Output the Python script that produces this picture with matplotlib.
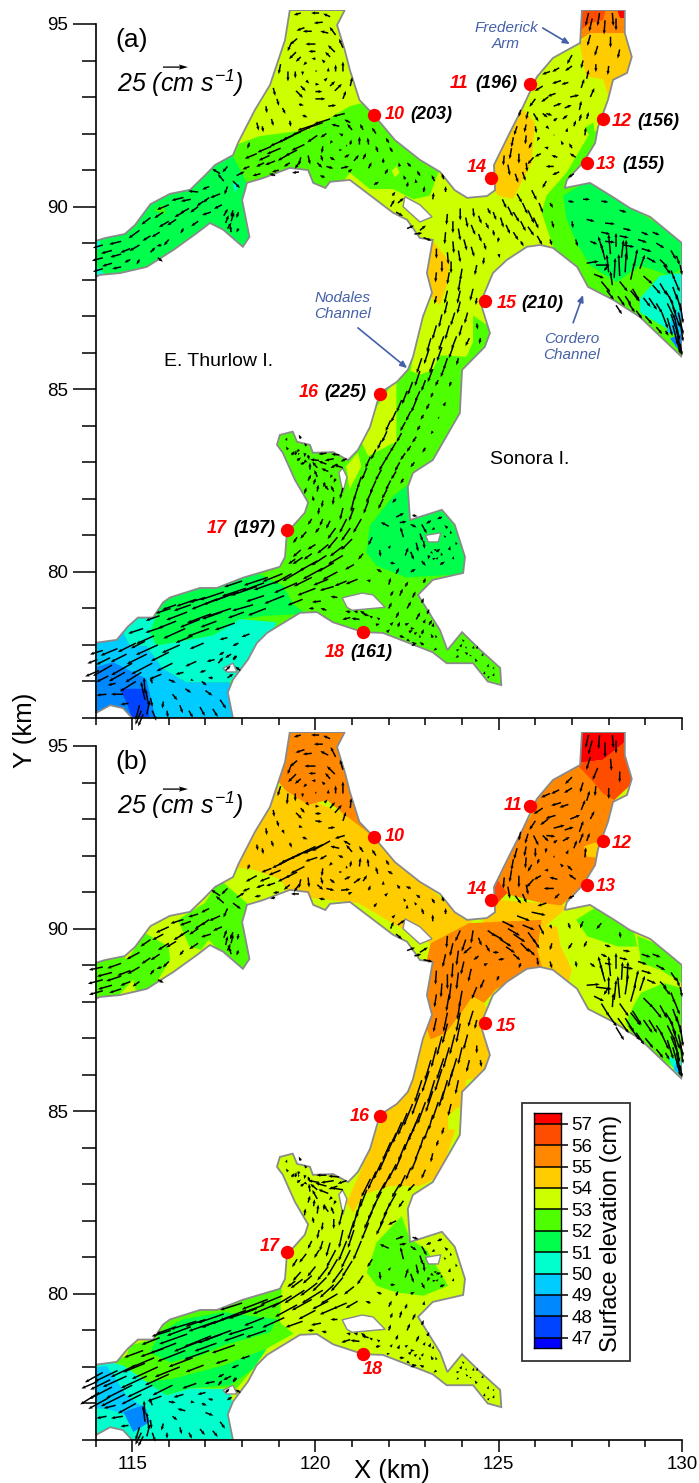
import numpy as np
import matplotlib
matplotlib.use('Agg')
import matplotlib.pyplot as plt
from matplotlib.patches import Polygon, Rectangle
from matplotlib.ticker import MultipleLocator

plt.rcParams['font.family'] = ['Liberation Sans', 'DejaVu Sans']
plt.rcParams['mathtext.fontset'] = 'custom'
plt.rcParams['mathtext.it'] = 'Liberation Sans:italic'
plt.rcParams['mathtext.rm'] = 'Liberation Sans:italic'

# channel outline, km
outline = [
    (114.0, 89.06), (114.26, 89.14), (114.8, 89.25), (115.08, 89.5), (115.5, 90.07), (116.03, 90.35),
    (116.58, 90.46), (117.0, 90.87), (117.26, 91.14), (117.75, 91.41), (117.9, 91.77), (118.35, 92.65),
    (118.76, 93.33), (119.17, 94.56), (119.3, 95.38), (120.8, 95.38), (120.59, 94.97), (120.8, 94.29),
    (120.94, 93.74), (121.2, 92.92), (121.6, 92.5), (122.17, 91.82), (122.85, 91.28), (123.4, 90.95),
    (123.8, 90.45), (124.14, 90.24), (124.68, 90.29), (124.9, 90.45), (124.87, 91.14), (125.3, 92.02),
    (125.66, 92.73), (126.04, 93.55), (126.48, 94.07), (127.22, 94.48), (127.27, 95.38), (128.44, 95.38),
    (128.44, 94.75), (128.63, 94.1), (128.5, 93.66), (128.12, 93.47), (127.98, 92.92), (127.71, 92.18),
    (127.63, 91.74), (127.3, 91.2), (126.86, 90.73), (126.8, 90.51), (127.49, 90.65), (128.12, 90.26),
    (128.58, 89.96), (129.13, 89.72), (130.0, 89.0), (130.0, 85.88), (128.85, 86.98), (128.12, 87.45),
    (127.44, 87.8), (127.14, 88.35), (126.48, 88.87), (126.13, 88.95), (125.77, 88.9), (125.22, 88.54),
    (124.84, 88.18), (124.57, 87.53), (124.54, 87.25), (124.76, 86.54), (124.62, 86.16), (124.0, 85.53),
    (123.94, 84.35), (123.2, 83.06), (122.66, 82.71), (122.52, 82.33), (122.58, 81.42), (123.45, 81.7),
    (123.8, 81.29), (124.08, 80.41), (124.03, 79.97), (123.2, 79.78), (122.8, 79.37), (123.4, 78.4),
    (123.6, 77.86), (124.0, 78.35), (124.5, 77.86), (125.04, 77.37), (125.07, 76.9), (124.7, 77.0),
    (124.3, 77.5), (123.58, 77.5), (123.2, 77.8), (121.84, 78.33), (121.3, 78.35), (120.48, 78.62),
    (120.04, 78.9), (119.58, 78.88), (118.68, 78.33), (118.4, 78.05), (118.16, 77.6), (117.75, 77.05),
    (117.61, 76.7), (117.75, 76.0), (115.0, 76.0), (114.75, 76.27), (114.4, 76.35), (114.0, 76.13),
    (114.0, 78.06), (114.58, 78.14), (114.88, 78.5), (115.16, 78.75), (115.57, 78.75), (115.84, 79.16),
    (116.03, 79.3), (116.85, 79.56), (117.31, 79.56), (118.02, 79.84), (119.03, 80.14), (119.17, 80.41),
    (119.22, 81.07), (119.71, 81.62), (119.8, 81.9), (119.44, 82.52), (119.11, 83.26), (118.95, 83.48),
    (119.03, 83.75), (119.38, 83.84), (119.5, 83.56), (119.85, 83.48), (119.93, 83.26), (120.48, 83.28),
    (120.89, 83.06), (121.16, 83.34), (121.49, 83.97), (121.76, 84.9), (122.22, 85.2), (122.52, 85.53),
    (122.66, 85.88), (122.93, 86.98), (123.18, 87.64), (123.04, 88.18), (123.2, 89.09), (122.85, 89.14),
    (122.5, 89.64), (122.12, 89.83), (120.94, 90.73), (120.4, 90.68), (120.27, 90.51), (119.94, 90.65),
    (119.8, 91.0), (119.3, 91.06), (118.57, 90.78), (118.13, 90.65), (118.08, 90.45), (118.0, 90.18),
    (118.2, 89.17), (118.02, 88.9), (117.48, 89.37), (117.12, 89.55), (116.77, 89.28), (116.12, 88.81),
    (115.4, 88.35), (114.67, 88.18), (114.12, 88.13), (114.0, 88.07),
]
islands = [
    [(122.44, 90.27), (122.85, 90.05), (123.18, 89.72), (122.85, 89.58), (122.39, 90.0)],
    [(120.74, 82.84), (120.86, 82.6), (120.75, 82.17), (120.64, 82.72)],
    [(123.0, 81.0), (123.42, 81.07), (123.35, 80.82), (123.08, 80.82)],
    [(120.73, 79.29), (121.27, 79.42), (121.57, 79.37), (121.9, 79.03), (121.0, 78.95), (120.86, 79.03)],
    [(117.48, 77.36), (117.75, 77.5), (117.86, 77.26), (117.58, 77.26)],
]

level_colors = {
    46: '#0000ff', 47: '#0044ff', 48: '#0088ff', 49: '#00ccff', 50: '#00ffcc', 51: '#00ff4d',
    52: '#4dff00', 53: '#ccff00', 54: '#ffcc00', 55: '#ff8800', 56: '#ff4d00', 57: '#ff0000',
}

# elevation zones, painted in order: (level, polygon)
zones_a = [
    (52, [(113, 97), (131, 97), (131, 75), (113, 75)]),
    (51, [(113.5, 89.5), (116, 91), (117.7, 91.5), (117.75, 91.39), (118.12, 90.66), (118.5, 88.5), (113.5, 87.8)]),
    (50, [(114, 89.1), (114.12, 89.1), (114.12, 88.85), (114, 88.85)]),
    (50, [(114, 88.4), (114.3, 88.1), (114, 88.0)]),
    (50, [(117.75, 90.62), (117.95, 90.65), (117.8, 90.38)]),
    (52, [(115.6, 89.9), (115.85, 90.05), (115.9, 89.8)]),
    (53, [(117.75, 91.66), (118.48, 91.93), (119.85, 92.11), (120.94, 92.75), (121.5, 92.9), (121.5, 95.5), (118, 95.5), (117.4, 92.2)]),
    (53, [(123.35, 90.93), (123.12, 90.3), (122.67, 90.2), (122.12, 90.48), (121.49, 90.48), (120.94, 90.93), (120.67, 90.57),
          (120.5, 90.4), (122.0, 89.5), (122.67, 85.93), (122.6, 85.5), (122.85, 85.4), (123.2, 85.53), (123.39, 85.93),
          (124.12, 85.89), (124.3, 86.3), (124.3, 87.02), (124.76, 86.7), (125.49, 87.48), (126.49, 88.89), (126.17, 89.84),
          (126.3, 90.3), (126.85, 90.93), (127.49, 92.02), (129, 92.5), (129, 95.5), (124, 95.5), (124.5, 91.5), (123.94, 91.1)]),
    (53, [(122.08, 90.98), (122.21, 91.11), (122.3, 90.93), (122.17, 90.8)]),
    (52, [(127.35, 92.16), (127.58, 92.3), (127.62, 92.02), (127.49, 91.93)]),
    (53, [(122.21, 84.44), (122.21, 83.57), (121.44, 83.17), (121.25, 83.57), (121.57, 84.35), (121.84, 84.8), (122.21, 85.26)]),
    (53, [(120.84, 82.89), (121.16, 83.26), (121.25, 82.89), (120.93, 82.26)]),
    (54, [(124.94, 91.39), (125.67, 92.66), (125.99, 92.3), (125.9, 91.2), (125.39, 90.21), (124.99, 90.3), (124.6, 90.8)]),
    (54, [(127.3, 93.93), (127.21, 94.48), (127.49, 94.75), (128.49, 94.75), (128.8, 94.11), (128.21, 93.3), (127.99, 93.02), (127.85, 93.48), (127.39, 93.57)]),
    (54, [(123.17, 89.11), (123.67, 88.48), (123.58, 87.84), (123.39, 87.3), (123.12, 87.57), (122.9, 88.2)]),
    (55, [(127.1, 94.48), (127.3, 95.5), (128.6, 95.5), (128.6, 94.75), (127.49, 94.75)]),
    (56, [(127.1, 94.75), (127.1, 95.5), (127.94, 95.5), (127.85, 95.11), (127.49, 95.02)]),
    (57, [(128.21, 95.5), (128.6, 95.5), (128.6, 95.16), (128.3, 95.16)]),
    (51, [(126.76, 90.3), (127.49, 90.75), (128.12, 90.3), (130.12, 89.02), (130.12, 88.39), (129.67, 88.11), (128.85, 88.39),
          (128.21, 87.93), (127.49, 88.39), (127.12, 89.02), (126.85, 89.66)]),
    (50, [(130.12, 88.2), (130.12, 86.57), (129.58, 86.66), (128.85, 87.11), (128.85, 87.48), (129.39, 88.11)]),
    (49, [(130.12, 87.3), (130.12, 86.39), (129.58, 86.57), (129.76, 87.02)]),
    (48, [(129.67, 86.39), (130.12, 86.57), (130.12, 85.8)]),
    (46, [(129.89, 86.11), (130.12, 86.2), (130.12, 85.8)]),
    (51, [(122.53, 82.39), (122.66, 81.44), (123.48, 81.8), (124.21, 80.44), (124.12, 79.94), (122.48, 79.85), (121.66, 80.17),
          (121.39, 80.53), (121.48, 81.26), (122.12, 82.08)]),
    (51, [(115.48, 78.35), (115.75, 79.08), (116.03, 79.44), (116.85, 79.71), (117.3, 79.71), (118.48, 79.94), (119.12, 79.62),
          (119.39, 79.12), (119.75, 78.85), (118.66, 78.8), (117.94, 78.71), (117.21, 78.26), (115.66, 77.98)]),
    (50, [(114.75, 78.35), (115.12, 78.8), (115.66, 78.8), (115.48, 78.35), (115.66, 77.98), (117.21, 78.26), (117.94, 78.71),
          (118.94, 78.62), (118.57, 77.8), (118.16, 77.53), (117.66, 76.98), (116.48, 76.98), (115.84, 77.35), (115.39, 77.98), (114.94, 77.98)]),
    (49, [(113.84, 78.17), (114.75, 78.35), (114.94, 77.98), (115.39, 77.98), (115.84, 77.35), (116.48, 76.98), (117.66, 76.98),
          (117.94, 75.9), (113.84, 75.9)]),
    (48, [(113.84, 77.35), (114.48, 77.53), (115.39, 77.07), (115.66, 75.9), (113.84, 75.9)]),
    (47, [(114.66, 76.8), (115.39, 76.8), (115.48, 75.9), (115.03, 75.9), (114.84, 76.44)]),
]
zones_b = [
    (53, [(113, 97), (131, 97), (131, 75), (113, 75)]),
    (54, [(117.6, 91.7), (118.9, 93.9), (119.17, 93.8), (120.74, 93.16), (121.58, 92.52), (123.98, 90.33), (124.29, 90.2),
          (123.14, 89.6), (122.41, 89.97), (121.16, 90.7), (119.28, 90.9), (119.07, 91.34), (118.34, 91.61)]),
    (55, [(119.0, 95.5), (120.95, 95.5), (121.16, 94.16), (121.89, 92.52), (121.58, 92.52), (120.74, 93.16), (120.32, 93.52),
          (119.8, 93.39), (119.17, 93.8), (118.8, 94.25)]),
    (52, [(117.4, 91.34), (118.13, 90.7), (118.4, 89.06), (117.92, 88.7), (117.09, 89.7), (116.88, 89.42), (116.56, 89.51), (116.25, 90.24), (116.98, 90.7)]),
    (52, [(115.31, 89.9), (115.99, 89.51), (116.04, 89.15), (115.52, 88.3), (115.1, 88.3), (114.89, 89.15)]),
    (52, [(113.85, 89.3), (114.48, 89.4), (114.89, 89.15), (115.1, 88.69), (114.48, 88.0), (113.85, 87.95)]),
    (55, [(124.7, 91.34), (125.86, 93.07), (126.3, 94.44), (128.57, 94.6), (128.15, 93.52), (128.26, 92.7), (127.53, 91.43),
          (126.69, 90.61), (126.17, 90.7), (125.12, 90.97)]),
    (54, [(127.32, 92.25), (127.84, 92.43), (127.8, 91.93), (127.42, 91.97)]),
    (54, [(124.5, 90.52), (124.92, 90.79), (126.17, 90.7), (126.9, 90.61), (126.17, 89.97), (124.6, 90.1)]),
    (56, [(124.92, 91.4), (125.23, 90.97), (124.92, 90.65), (124.6, 91.06)]),
    (56, [(127.1, 94.53), (127.84, 94.62), (128.41, 95.08), (128.8, 94.53), (128.8, 94.12), (128.15, 93.52), (127.84, 93.71), (127.53, 94.07)]),
    (57, [(127.1, 95.5), (128.6, 95.5), (128.41, 95.08), (127.84, 94.62), (127.1, 94.53)]),
    (55, [(123.14, 89.6), (124.19, 90.15), (126.17, 90.24), (126.06, 89.42), (126.27, 88.7), (125.54, 88.7), (124.92, 88.33),
          (124.6, 87.96), (124.29, 88.14), (123.98, 87.69), (123.56, 87.14), (123.14, 86.96), (122.8, 87.6), (122.9, 88.51)]),
    (54, [(126.06, 89.42), (126.17, 90.06), (126.59, 90.06), (126.69, 89.51), (127.0, 88.87), (126.8, 88.2), (126.27, 88.6)]),
    (54, [(122.03, 85.18), (122.3, 85.9), (122.93, 87.6), (123.14, 86.96), (123.56, 87.14), (123.98, 87.69), (124.29, 88.14),
          (124.6, 87.96), (125.0, 87.0), (125.0, 86.0), (124.12, 85.86), (123.99, 85.04), (123.4, 83.22), (122.85, 82.95),
          (122.03, 82.95), (121.3, 82.72), (121.03, 82.22), (120.85, 82.5), (121.21, 83.31), (121.58, 84.31)]),
    (53, [(123.9, 85.13), (124.2, 84.5), (123.62, 84.5), (123.62, 84.86)]),
    (52, [(114.4, 78.13), (114.85, 78.31), (114.94, 78.59), (115.58, 78.77), (115.85, 79.5), (116.85, 79.68), (117.94, 79.95),
          (119.08, 80.22), (119.03, 79.22), (119.4, 78.91), (118.67, 78.5), (118.3, 77.95), (117.85, 77.41), (116.58, 77.41),
          (115.85, 77.22), (115.4, 77.59), (114.76, 78.04)]),
    (51, [(115.49, 78.4), (115.76, 78.95), (116.4, 79.31), (117.49, 79.5), (118.21, 79.4), (118.94, 79.31), (118.76, 78.95),
          (117.49, 78.59), (116.85, 78.31), (116.03, 78.13)]),
    (51, [(115.4, 77.59), (115.94, 77.22), (116.58, 77.41), (117.67, 77.5), (118.3, 77.95), (118.67, 78.5), (117.49, 78.04), (116.12, 77.68)]),
    (50, [(113.85, 78.3), (114.4, 78.13), (114.76, 78.04), (115.4, 77.59), (115.94, 77.22), (116.58, 77.41), (117.67, 77.4),
          (117.9, 76.0), (113.85, 76)]),
    (49, [(113.85, 77.95), (114.3, 78.04), (114.85, 77.22), (115.49, 76.77), (114.85, 76.68), (114.3, 76.86), (113.85, 76.86)]),
    (48, [(114.76, 76.77), (115.3, 76.95), (115.49, 76.5), (115.03, 76.22)]),
    (52, [(121.4, 80.59), (121.67, 81.41), (122.35, 82.13), (122.58, 81.5), (123.03, 81.22), (123.62, 80.22), (122.94, 79.95), (122.21, 80.04), (121.67, 80.22)]),
    (52, [(127.11, 90.24), (127.84, 90.7), (128.67, 90.0), (128.78, 89.51), (128.26, 89.51), (127.42, 89.79)]),
    (52, [(128.78, 89.8), (129.51, 89.5), (130.14, 88.87), (130.14, 88.42), (129.41, 88.87), (128.88, 89.06)]),
    (52, [(129.51, 88.51), (130.14, 88.33), (130.14, 85.96), (129.72, 86.23), (128.88, 86.68), (128.47, 87.41), (128.67, 87.87), (128.88, 88.24)]),
    (50, [(129.62, 86.5), (130.14, 86.32), (130.14, 85.8), (129.72, 86.23)]),
    (49, [(129.82, 86.32), (130.14, 86.14), (130.14, 85.8), (129.77, 86.14)]),
]

# current vectors: x km, y km, then u, v in cm/s for panel a and for panel b
west_channel = [
    (114.2, 88.95, -10, -3, -14, -3), (114.2, 88.6, -11, -3, -15, -4), (114.2, 88.3, -10, -3, -14, -4),
    (114.7, 89.05, -12, -3, -14, -5), (114.7, 88.7, -11, -3, -15, -5), (114.7, 88.35, -9, -2, -12, -4),
    (115.2, 89.35, -11, -8, -13, -7), (115.2, 88.95, -10, -6, -12, -7), (115.2, 88.55, -3, -5, -7, -5),
    (115.5, 89.7, -9, -7, -10, -7), (115.5, 89.2, -8, -5, -9, -6), (115.5, 88.75, 5, 5, 4, 5),
    (115.7, 88.6, 5, -4, 6, -3), (115.8, 88.95, -5, -1, -5, -2), (116.0, 90.05, -12, -5, -13, -6),
    (116.0, 89.6, -10, -6, -11, -7), (116.0, 89.1, -5, -6, -6, -6), (116.4, 90.25, -12, -3, -13, -4),
    (116.4, 89.85, -9, -5, -10, -6), (116.4, 89.4, -3, -5, -4, -5), (116.8, 90.4, -10, 1, -10, -3),
    (116.8, 90.0, -8, -6, -9, -6), (116.8, 89.6, -7, -5, -9, -6), (117.1, 90.55, -7, -3, -8, -4),
    (117.1, 90.25, -6, -5, -8, -6), (117.15, 89.85, -9, -3, -10, -3), (117.4, 90.9, -8, 5, -9, 6),
    (117.5, 90.7, -6, 7, -8, 7), (117.6, 90.55, -3, -8, -4, -9), (117.4, 90.35, -10, -4, -11, -5),
    (117.45, 90.05, -8, -4, -9, -4), (117.5, 89.75, 4, 7, 3, 8), (117.55, 89.55, 3, 8, 2, 9),
    (117.6, 89.4, 4, 6, 3, 7), (117.7, 89.6, 3, 9, 2, 9), (117.7, 89.3, -1, 7, -2, 7),
    (117.75, 89.9, -2, -7, -3, -7), (117.9, 89.85, -2, -6, -1, -6), (117.9, 89.4, -2, -4, -2, -5),
    (117.6, 91.1, -5, -6, -6, -6), (117.85, 90.85, 8, 4, 8, 5), (117.75, 90.7, 7, -7, 8, -6),
    (114.45, 88.8, -11, -3, -15, -4), (114.45, 88.45, -10, -3, -14, -4), (114.95, 88.85, -10, -4, -13, -5),
    (114.95, 88.55, -6, -3, -10, -4), (115.75, 89.3, -8, -5, -9, -6), (116.2, 89.65, -9, -6, -10, -6),
    (116.55, 89.95, -9, -5, -10, -6), (115.85, 89.85, -9, -6, -11, -6), (116.6, 90.2, -10, -2, -11, -4),
    (116.95, 90.15, -7, -5, -9, -6),
]
north_arm = [
    (120.35, 93.7, 0, 4, 0, 4), (120.25, 93.95, -3, 3, -3, 3), (120.0, 94.05, -4, 0, -4, 0), (119.75, 93.95, -3, -3, -3, -3),
    (119.65, 93.7, 0, -4, 0, -4), (119.75, 93.45, 3, -3, 3, -3), (120.0, 93.35, 4, 0, 4, 0), (120.25, 93.45, 3, 3, 3, 3),
    (120.75, 93.7, 0, 10, 0, 12), (120.53, 94.23, -7, 7, -8, 8), (120.0, 94.45, -10, 0, -11, 0), (119.47, 94.23, -7, -7, -8, -8),
    (119.25, 93.7, 0, -10, -1, -11), (119.47, 93.17, 7, -7, 6, -6), (120.0, 92.95, 10, 0, 7, -1), (120.53, 93.17, 7, 7, 7, 8),
    (120.55, 94.7, -6, 8, -5, 10), (120.2, 95.05, -9, -1, -9, 0), (119.7, 94.9, -8, -3, -9, -3), (119.35, 94.5, -4, -9, -4, -10),
    (119.05, 93.9, -2, -10, -3, -10), (118.85, 93.25, 2, -8, 1, -7), (118.65, 92.75, 1, -7, 1, -7), (118.4, 92.3, 2, -8, 1, -6),
    (119.1, 92.7, 3, -6, 2, -4), (119.55, 92.8, 5, -1, 4, -1), (120.1, 95.3, -8, 0, -8, 0), (119.6, 95.3, -7, -2, -7, -2),
    (120.95, 93.3, 2, 9, 1, 10), (120.75, 92.95, 3, 8, 3, 9), (120.0, 93.7, 2, 1, 1, 2),
    (120.55, 93.7, 0, 7, 0, 8), (120.4, 94.1, -5, 5, -5, 6), (120.0, 94.25, -7, 0, -7, 0), (119.6, 94.1, -5, -5, -6, -5),
    (119.45, 93.7, 0, -7, 0, -8), (119.6, 93.3, 5, -5, 4, -5), (120.0, 93.15, 7, 0, 6, 0), (120.4, 93.3, 5, 5, 5, 6),
    (120.75, 94.35, -4, 9, -3, 10), (120.35, 94.75, -8, 2, -8, 4), (119.9, 94.8, -9, 0, -9, -1), (119.5, 94.6, -7, -6, -7, -6),
    (120.4, 95.2, -7, 3, -7, 3), (119.3, 92.35, 1, -6, 2, -5), (118.8, 92.4, 2, -7, 2, -6), (119.65, 92.5, 5, -2, 5, -2),
    (120.35, 92.75, 8, 1, 7, 1), (118.95, 92.95, 2, -7, 2, -6), (118.55, 92.2, 1, -6, 1, -6), (118.2, 91.75, -2, -6, -2, -5),
]
north_basin = [
    (118.4, 91.45, -12, -5, -11, -6), (118.8, 91.65, -14, -6, -10, -4), (119.2, 91.85, -16, -7, -14, -7), (119.6, 92.05, -18, -8, -20, -9),
    (120.0, 92.25, -18, -6, -20, -10), (120.4, 92.4, -16, -5, -18, -10), (120.8, 92.55, -12, -3, -10, -3), (118.9, 91.25, -10, -4, -9, -3),
    (119.3, 91.45, -12, -7, -12, -6), (119.7, 91.7, -13, -6, -14, -7), (120.05, 91.95, -10, -7, -12, -4), (118.2, 91.1, -7, -3, -7, -3),
    (118.5, 90.9, -8, -2, -6, -1), (118.9, 90.85, -6, 2, -5, -1), (119.3, 91.2, -6, -4, -6, -5), (119.55, 91.2, -4, -6, -5, -7),
    (119.8, 91.4, 2, -9, 1, -10), (120.05, 91.2, 5, -5, 6, -5), (120.3, 91.1, 7, -2, 8, -2), (120.7, 91.05, 8, 2, 9, 1),
    (121.05, 91.25, 5, 6, 7, 5), (121.2, 91.7, 0, 8, 1, 9), (121.0, 92.1, -5, 6, -6, 7), (120.65, 92.2, -8, 2, -9, 2),
    (120.3, 92.0, -6, -4, -7, -4), (120.2, 91.65, -1, -7, -1, -8), (120.4, 91.35, 5, -3, 5, -4), (120.8, 91.35, 5, 3, 6, 3),
    (120.95, 91.7, 1, 5, 1, 6), (120.75, 91.95, -4, 2, -5, 2), (120.45, 91.8, -2, -3, -3, -3), (120.65, 91.55, 3, 0, 3, 0),
    (120.85, 91.65, 0, 2, 0, 3), (119.55, 90.95, -7, -1, -8, 0), (120.25, 90.8, -5, 2, -6, 1), (120.9, 90.95, 4, 3, 4, 2),
    (121.45, 91.05, 3, 6, 2, 5), (121.7, 91.5, -2, 6, -2, 7), (121.65, 92.0, -4, 6, -4, 6), (122.1, 91.5, -3, 5, -5, 3),
    (122.3, 91.1, -1, 4, -3, 4), (121.9, 90.9, 3, 5, 3, 3), (121.6, 90.6, 5, 3, 3, 4), (122.6, 91.1, -4, 4, -5, 2),
    (122.85, 90.85, -3, 5, -4, 3), (122.45, 90.75, -2, 4, -2, 3), (122.95, 90.4, 1, 6, -2, 6), (123.25, 90.7, -3, 6, -3, 5),
    (123.2, 90.2, 1, 7, 0, 7), (123.55, 90.4, 0, 6, 0, 6), (122.1, 90.3, 3, 4, 3, 3), (122.25, 90.1, 6, 5, 7, 5),
    (122.05, 90.0, 4, 7, 3, 7), (122.2, 89.85, 7, -4, 6, -5), (122.5, 89.4, 7, 3, 8, 3), (122.7, 89.25, 8, 1, 7, 2),
    (122.85, 89.35, 6, 5, 8, 5), (122.95, 89.15, 8, -3, 9, -2),
    (118.75, 91.4, -11, -5, -10, -4), (119.05, 91.6, -14, -6, -12, -5), (119.4, 91.95, -15, -7, -16, -8), (119.8, 92.15, -16, -7, -18, -9),
    (120.2, 92.3, -17, -6, -19, -9), (119.5, 91.55, -12, -6, -12, -6), (119.6, 91.35, -2, -8, -2, -9), (119.0, 91.0, -7, -2, -6, -1),
    (118.6, 91.2, -8, -4, -8, -3), (120.15, 91.4, 2, -6, 2, -7), (121.3, 91.3, 3, 6, 4, 6), (121.45, 91.7, -1, 7, -1, 8),
    (121.3, 92.1, -3, 6, -4, 6), (120.95, 92.3, -6, 3, -7, 4), (122.0, 91.75, -3, 5, -3, 5), (121.85, 91.2, 0, 5, 0, 4),
    (122.5, 90.55, 1, 5, 0, 4), (122.75, 90.65, -1, 4, -2, 3), (123.5, 90.75, -2, 6, -2, 5),
]
ne_arm = [
    (126.5, 92.35, 4, 3, 4, 3), (126.85, 92.05, 1, 4, 2, 4), (126.75, 91.7, -2, 4, -3, 3), (126.35, 91.6, -4, 1, -4, 0),
    (126.1, 91.9, -2, -4, -2, -5), (126.3, 92.2, 3, -3, -1, -5), (126.5, 91.95, 1, 1, 1, 2), (127.2, 92.65, 2, 9, 4, 11),
    (127.35, 91.95, 1, 8, 1, 10), (127.1, 91.35, -6, 4, -7, 5), (126.5, 91.1, -8, 0, -10, 0), (125.95, 91.35, -6, -7, -7, -8),
    (125.75, 91.95, -1, -9, -1, -11), (125.95, 92.55, 5, -8, 5, -10), (126.5, 92.75, 8, 3, 11, 3), (126.95, 93.0, 9, 2, 10, 4),
    (127.5, 93.0, 4, 9, 4, 8), (127.4, 93.5, 2, 9, 3, 10), (126.7, 93.45, -9, -3, -10, -3), (126.4, 93.7, -8, -3, -9, -4),
    (126.2, 93.3, -8, -5, -9, -6), (126.0, 92.95, -6, -8, -6, -9), (125.8, 92.6, -2, -8, -3, -10), (125.5, 92.2, -3, -9, -3, -11),
    (125.35, 91.6, -2, -11, -2, -12), (125.25, 91.15, 2, -11, 2, -12), (125.65, 90.95, 3, -9, 4, -9), (125.55, 91.45, 0, -10, 0, -12),
    (127.0, 94.15, -5, -9, -7, -7), (127.3, 94.0, -2, -8, -3, -10), (127.65, 93.9, 0, -8, -1, -10), (128.0, 93.85, -1, -9, 0, -11),
    (128.3, 94.3, -2, -9, 0, -11), (127.7, 94.4, -3, -10, -5, -12), (127.5, 94.7, -3, -11, -4, -13), (128.05, 94.65, 0, -11, 1, -12),
    (127.55, 95.15, -3, -13, -4, -14), (127.9, 95.1, -1, -14, 0, -15), (128.2, 95.15, 0, -12, 0, -13), (127.75, 95.3, -2, -13, -1, -14),
    (127.45, 95.3, -3, -13, -3, -13), (128.1, 95.3, 1, -13, 1, -13), (126.65, 90.95, -7, -3, -5, -5), (127.05, 90.9, -6, -4, -6, -3),
    (126.3, 90.7, -4, -7, -9, -3),
    (126.2, 92.55, 5, -4, 6, -6), (126.75, 92.4, 5, 4, 7, 4), (127.05, 92.2, 2, 6, 3, 8), (127.0, 91.6, -3, 5, -5, 5),
    (126.6, 91.35, -6, 2, -8, 2), (126.15, 91.45, -6, -3, -7, -4), (125.9, 91.75, -3, -6, -4, -7), (126.0, 92.2, 1, -7, 0, -9),
    (126.3, 92.55, 6, -2, 9, -1), (126.8, 92.7, 7, 3, 9, 3), (127.2, 92.35, 2, 7, 4, 10), (127.4, 92.4, 2, 7, 3, 8),
    (127.25, 93.25, 3, 9, 4, 10), (126.55, 93.1, -8, -3, -10, -3), (126.9, 93.4, -7, -2, -9, -3), (127.0, 93.85, -7, -5, -8, -5),
    (126.65, 93.8, -7, -4, -8, -4), (126.35, 93.0, -7, -5, -8, -6), (125.75, 92.25, -2, -8, -2, -10), (125.6, 92.65, -2, -7, -2, -9),
    (125.4, 91.9, -2, -10, -2, -11), (125.15, 91.4, -1, -10, -1, -11), (125.75, 91.2, 1, -9, 2, -10), (125.45, 90.9, 3, -9, 6, -8),
]
junction = [
    (123.6, 89.8, -1, -11, -1, -12), (123.95, 89.95, 0, -12, -5, -11), (124.3, 89.95, 1, -9, -2, -13), (124.7, 89.95, 3, -6, 8, -6),
    (125.1, 90.2, 4, -9, 12, -6), (125.5, 90.35, 5, -9, 13, -5), (125.9, 90.45, 5, -10, 14, -3), (123.55, 89.3, -1, -12, -3, -13),
    (123.9, 89.4, 2, -12, -2, -15), (124.25, 89.5, 4, -10, -8, -7), (124.65, 89.55, 3, -6, 4, -7), (125.05, 89.7, 3, -10, 11, -7),
    (125.4, 89.85, 6, -10, 12, -8), (125.8, 89.9, 6, -13, 8, -11), (126.1, 90.1, 4, -10, 5, -10), (123.6, 88.75, 1, -12, 0, -15),
    (123.9, 88.8, 2, -12, -2, -17), (124.25, 88.9, 3, -10, -3, -13), (124.6, 89.0, 2, -7, 4, 2), (125.0, 89.15, -1, -5, 6, 1),
    (125.4, 89.3, 5, -8, 7, -6), (125.8, 89.45, 6, -9, 7, -7), (126.05, 89.2, 5, -9, 1, -8), (125.6, 89.05, 3, -5, -2, -5),
    (123.65, 88.2, -2, -12, -3, -17), (124.0, 88.3, -2, -12, -3, -17), (124.4, 88.4, -2, -10, -5, -12), (124.6, 88.6, -1, -7, -4, -9),
    (125.0, 88.7, 1, -4, -2, -5), (123.6, 87.7, -3, -13, -4, -19), (123.95, 87.7, -3, -13, -4, -19), (124.3, 87.75, -3, -12, -5, -16),
    (126.4, 89.1, 2, -6, 2, -7), (126.45, 89.6, 2, -7, -2, -7), (126.4, 90.1, 3, -5, 2, -4),
    (123.75, 89.6, 0, -12, -3, -13), (124.1, 89.7, 2, -10, -4, -12), (124.45, 89.75, 3, -8, 3, -8), (124.85, 89.85, 3, -8, 10, -6),
    (125.25, 90.0, 5, -10, 12, -7), (125.65, 90.1, 5, -11, 12, -5), (123.75, 89.05, 1, -12, -1, -15), (124.05, 89.1, 3, -11, -3, -13),
    (124.45, 89.25, 3, -8, -5, -4), (124.85, 89.35, 1, -6, 6, 0), (125.2, 89.5, 4, -9, 9, -6), (125.6, 89.6, 5, -10, 9, -9),
    (125.95, 89.7, 5, -11, 6, -9),
]
cordero = [
    (126.9, 90.15, 6, -1, 2, -6), (127.3, 90.2, 7, 0, -3, -7), (127.8, 90.15, 7, -1, -5, -6), (128.3, 89.9, 7, -2, 1, -6),
    (127.0, 89.6, 1, -7, -4, -6), (127.4, 89.65, 8, -2, -3, -6), (127.9, 89.55, 10, -1, 6, -2), (128.4, 89.4, 8, -2, 7, -1),
    (128.9, 89.3, 7, -3, 9, -3), (129.3, 89.0, 8, -5, 9, -5), (129.7, 88.8, 5, -9, 6, -9), (129.95, 88.4, 2, -10, 2, -10),
    (127.1, 89.1, 2, -7, 1, -6), (127.5, 89.05, 7, -3, 5, -4), (127.9, 89.05, 10, -1, 7, -1), (128.4, 88.95, 11, -2, 10, -2),
    (128.9, 88.85, 10, -3, 10, -3), (129.4, 88.55, 8, -8, 7, -7), (129.7, 88.25, 4, -10, 4, -11), (127.4, 88.45, 12, 2, 13, 1),
    (127.65, 88.4, 14, 0, 16, -2), (127.9, 88.55, -4, 16, -5, 18), (128.0, 88.2, -2, 18, 0, 18), (128.15, 88.05, 1, 20, 2, 20),
    (128.3, 88.1, -1, 22, -2, 22), (128.45, 88.2, 1, 20, 3, 20), (128.6, 88.0, 4, 18, 5, 18), (127.8, 87.95, 9, -11, 8, -13),
    (127.95, 87.7, 7, -9, 10, -14), (128.25, 87.55, 7, -10, 11, -15), (128.55, 87.35, 6, -9, 11, -15), (128.3, 87.95, 8, -10, 9, -13),
    (128.65, 87.75, 7, -12, 9, -14), (128.95, 87.5, 7, -9, 9, -13), (128.95, 88.1, 9, -8, 10, -10), (129.2, 87.85, 8, -9, 9, -11),
    (129.0, 87.0, 7, -8, 8, -10), (129.3, 86.7, 6, -7, 7, -9), (129.3, 87.35, 6, -10, 7, -11), (129.55, 87.7, 8, -14, 8, -13),
    (129.6, 87.35, 8, -16, 8, -16), (129.7, 87.05, 7, -20, 8, -20), (129.85, 87.6, 5, -18, 5, -18), (129.75, 86.75, 5, -20, 6, -22),
    (129.9, 87.1, 5, -22, 5, -22), (129.85, 86.4, 4, -16, 4, -16), (129.95, 86.85, 3, -20, 3, -20), (129.95, 86.25, 2, -12, 2, -12),
    (129.55, 86.6, 3, -5, 4, -7), (129.4, 87.9, 7, -12, 7, -13), (129.8, 88.0, 5, -12, 5, -13), (128.75, 87.15, 6, -8, 8, -12),
    (127.85, 88.75, -5, 16, -5, 18), (128.05, 88.7, -2, 20, -2, 20), (128.2, 88.9, 0, 14, 0, 16), (128.35, 88.6, 2, 18, 1, 18),
    (128.5, 88.55, -1, 20, 1, 20), (128.7, 88.4, 3, 16, 4, 17), (128.85, 88.3, 5, 14, 5, 15), (128.1, 87.85, -2, 14, 1, 14),
    (128.6, 87.7, 9, -11, 10, -13), (129.1, 87.5, 8, -12, 8, -13), (129.45, 87.1, 6, -16, 7, -15), (129.6, 86.95, 5, -18, 6, -19),
    (129.8, 86.95, 5, -22, 5, -22), (129.65, 87.55, 7, -18, 7, -17), (129.75, 87.25, 7, -20, 7, -20), (129.95, 87.35, 3, -20, 3, -21),
    (129.85, 86.6, 4, -18, 4, -19), (129.75, 87.8, 5, -14, 5, -14), (128.0, 88.4, -5, -6, -5, -8), (127.6, 88.15, 10, -4, 10, -5),
    (128.2, 87.3, 6, -9, 8, -13), (128.45, 87.55, 6, -9, 9, -14), (127.8, 89.3, 9, -2, 6, -3), (128.3, 89.2, 9, -2, 8, -2),
    (128.8, 89.1, 9, -3, 9, -3), (129.2, 89.3, 7, -3, 8, -3), (129.5, 88.4, 7, -9, 7, -8), (129.05, 88.6, 9, -5, 9, -4),
    (129.85, 88.65, 3, -9, 3, -9),
]
nodales = [
    (123.3, 88.85, 0, -10, -1, -14), (123.3, 88.2, -1, -10, -2, -13), (123.3, 87.55, -2, -8, -3, -14), (123.45, 87.05, -3, -13, -5, -19),
    (123.8, 87.1, -4, -13, -5, -20), (124.15, 87.1, -3, -11, -4, -15), (124.4, 87.5, -1, -7, -2, -9), (124.4, 86.8, 1, -6, 0, -8),
    (124.5, 86.4, -1, -6, 1, -7), (124.2, 86.4, -4, -8, -3, -12), (123.85, 86.45, -5, -13, -6, -20), (123.5, 86.45, -5, -14, -7, -21),
    (123.15, 86.4, -4, -14, -6, -20), (122.9, 85.85, -5, -15, -7, -22), (123.25, 85.85, -5, -15, -7, -23), (123.6, 85.85, -4, -12, -6, -21),
    (123.9, 85.85, -2, -7, -3, -14), (122.65, 85.2, -5, -13, -9, -22), (123.0, 85.25, -4, -11, -8, -22), (123.35, 85.25, -3, -6, -6, -18),
    (123.7, 85.2, -2, -5, -3, -12), (122.35, 84.7, -5, -12, -9, -21), (122.75, 84.7, -5, -12, -8, -19), (123.1, 84.6, -3, -6, -5, -14),
    (123.5, 84.55, 2, 4, -2, -7), (122.05, 84.15, -5, -11, -8, -18), (122.45, 84.1, -5, -9, -7, -17), (122.85, 84.0, -3, -5, -5, -13),
    (123.2, 83.85, -2, -3, -2, -9), (121.8, 83.6, -4, -9, -8, -17), (122.2, 83.55, -6, -10, -8, -16), (122.6, 83.45, -4, -6, -5, -12),
    (123.0, 83.4, -3, -5, -4, -9), (121.5, 83.15, -5, -11, -9, -18), (121.9, 83.05, -6, -10, -9, -16), (122.3, 83.0, -5, -9, -8, -13),
    (122.7, 83.0, -4, -5, -7, -7), (121.25, 82.6, -4, -12, -5, -19), (121.65, 82.5, -6, -13, -8, -17), (122.05, 82.5, -5, -10, -7, -14),
    (122.4, 82.55, -3, -5, -5, -7), (121.05, 82.0, -3, -13, -6, -19), (121.45, 81.95, -5, -13, -7, -17), (121.85, 82.0, -5, -10, -7, -14),
    (122.2, 82.0, -4, -4, -8, -4),
    (123.45, 88.5, 0, -11, -1, -14), (123.7, 88.5, 0, -12, -2, -17), (123.95, 88.0, -2, -12, -3, -18), (123.6, 87.4, -3, -13, -5, -20),
    (123.95, 87.4, -3, -12, -4, -19), (123.3, 86.75, -4, -14, -5, -20), (123.65, 86.75, -4, -14, -6, -21), (124.0, 86.75, -3, -11, -4, -17),
    (123.1, 86.1, -5, -15, -7, -21), (123.45, 86.15, -5, -14, -7, -22), (123.75, 86.15, -4, -11, -5, -18), (122.85, 85.5, -5, -15, -8, -22),
    (123.2, 85.55, -5, -13, -7, -21), (123.5, 85.55, -3, -8, -5, -16), (122.5, 84.95, -5, -13, -9, -22), (122.85, 84.95, -5, -11, -8, -20),
    (123.2, 84.9, -2, -5, -4, -15), (122.2, 84.4, -5, -11, -9, -20), (122.6, 84.4, -5, -10, -7, -18), (122.95, 84.3, -3, -5, -4, -13),
    (123.35, 84.2, 1, 2, -2, -6), (121.95, 83.85, -5, -11, -8, -18), (122.35, 83.8, -5, -9, -7, -16), (122.75, 83.7, -4, -6, -5, -12),
    (121.65, 83.35, -5, -10, -8, -18), (122.05, 83.3, -6, -10, -8, -16), (122.45, 83.25, -5, -7, -6, -13), (121.4, 82.85, -5, -12, -7, -18),
    (121.8, 82.8, -6, -11, -9, -17), (122.2, 82.75, -5, -8, -8, -14), (121.15, 82.3, -4, -13, -5, -19), (121.55, 82.25, -6, -13, -8, -17),
    (121.95, 82.25, -5, -9, -7, -14),
]
south_basin = [
    (120.85, 81.45, -7, -14, -8, -20), (121.25, 81.45, -8, -14, -8, -19), (121.0, 80.9, -11, -11, -10, -16), (120.6, 80.95, -10, -12, -10, -17),
    (120.75, 80.45, -15, -9, -12, -14), (120.3, 80.45, -15, -10, -14, -14), (120.4, 81.4, -4, -8, -4, -14), (120.1, 81.75, -1, -7, -2, -9),
    (120.5, 82.05, -1, -8, 0, -10), (120.1, 81.2, -4, -5, -5, -8), (119.75, 81.1, -6, -7, -7, -9), (119.6, 80.6, -8, -7, -8, -9),
    (120.0, 80.75, -8, -5, -8, -10), (119.7, 80.1, -22, -13, -20, -13), (120.2, 80.1, -20, -11, -21, -13), (120.6, 80.0, -15, -8, -17, -10),
    (121.05, 80.2, -9, -5, -10, -8), (121.15, 79.8, -12, -5, -12, -7), (120.5, 79.6, -14, -4, -14, -6), (120.0, 79.55, -18, -7, -17, -9),
    (119.5, 79.7, -23, -10, -22, -12), (119.0, 79.75, -25, -9, -26, -11), (119.15, 79.35, -20, -8, -22, -10), (119.65, 79.25, -15, -6, -17, -6),
    (120.15, 79.2, -9, -1, -10, -2), (120.6, 79.3, -7, 1, -7, 0), (120.3, 78.95, -6, 2, -5, 1), (119.95, 79.0, -5, 0, -6, 0),
    (121.5, 79.75, -4, 1, -5, 2), (122.0, 79.65, 2, 7, 3, 6), (122.3, 79.35, 3, 7, 2, 7), (122.5, 79.0, 4, 7, 3, 7),
    (122.75, 78.7, 4, 7, 3, 6), (122.2, 78.75, 3, 6, 2, 5), (122.9, 78.3, 2, 5, 2, 3), (122.55, 78.35, 4, 2, 3, 3),
    (122.3, 78.25, 5, -2, 5, 0), (122.75, 78.05, -5, -3, -6, -2), (122.95, 78.0, -4, 3, -4, 2), (123.2, 78.2, -2, 4, -2, 4),
    (123.1, 78.55, 3, 5, 2, 4), (121.95, 78.35, 3, 3, 3, 1), (121.65, 78.55, 4, 1, 5, 1), (121.2, 78.7, -8, 1, -9, 1),
    (120.95, 78.75, -8, -2, -9, -3), (121.45, 78.8, -6, 2, -7, 2), (121.75, 78.7, -3, 2, -3, 2), (123.3, 77.9, -3, -2, -3, -2),
    (121.8, 80.0, -5, 3, -5, 2), (122.2, 79.95, 3, 6, 2, 5), (122.6, 80.0, 5, 3, 4, 2), (122.95, 79.7, 2, 5, 1, 4),
    (121.75, 80.6, 1, -7, 1, -8), (122.05, 80.25, 5, -1, 5, 0), (122.45, 80.45, 3, 8, 3, 9), (122.4, 80.95, -3, 10, -3, 12),
    (122.0, 81.25, -8, 4, -9, 4), (121.55, 80.95, -4, -8, -5, -8), (122.0, 80.65, 2, 3, 2, 3), (122.2, 81.5, 8, 4, 8, 3),
    (122.65, 81.55, 5, -1, 6, -2), (122.9, 81.3, 5, -9, 5, -9), (122.75, 80.8, 2, -9, 2, -10), (122.9, 80.3, 4, -5, 3, -6),
    (123.4, 80.2, 5, 3, 5, 2), (123.65, 80.6, 1, 4, 1, 4), (123.3, 80.55, 4, 3, 5, 1), (123.6, 81.2, -3, 3, -3, 3),
    (123.45, 81.5, -5, -2, -5, -2), (123.15, 81.4, -5, -3, -5, -2), (123.1, 80.45, -1, -4, -2, -4),
    (120.95, 81.2, -9, -13, -9, -18), (120.55, 81.2, -8, -11, -9, -17), (120.75, 80.7, -13, -10, -11, -15), (120.35, 80.75, -11, -9, -11, -14),
    (120.5, 80.25, -16, -9, -14, -13), (120.05, 80.3, -18, -10, -17, -13), (119.65, 80.4, -10, -7, -12, -9), (119.35, 79.95, -18, -10, -20, -12),
    (119.9, 79.85, -18, -9, -20, -11), (120.35, 79.8, -15, -6, -16, -8), (120.85, 79.75, -12, -5, -14, -6), (121.3, 80.5, -5, -6, -6, -9),
    (121.05, 81.75, -5, -13, -6, -18), (120.75, 81.75, -3, -12, -4, -18), (120.75, 82.3, -3, -11, -4, -16), (120.2, 81.45, -3, -7, -3, -10),
    (119.9, 81.45, -4, -6, -4, -8), (119.5, 80.95, -4, -6, -5, -8), (119.45, 80.35, -7, -5, -8, -6), (119.9, 80.5, -8, -6, -9, -8),
    (123.15, 80.55, 2, -2, 3, -2), (123.3, 80.35, 2, 2, 2, 2), (123.45, 80.45, -1, 3, -1, 3), (123.3, 80.6, -3, 0, -3, 0),
    (123.2, 80.35, 3, 1, 3, 1), (123.75, 80.35, 1, 3, 1, 3), (123.85, 80.75, -1, 3, -1, 3), (123.55, 80.95, -2, 2, -2, 2),
    (123.25, 81.2, -3, -2, -3, -2), (123.7, 81.05, -1, 3, -1, 3), (122.95, 80.85, 1, -8, 1, -9), (122.85, 81.05, 3, -8, 3, -9),
    (122.6, 81.3, 6, -3, 6, -4), (122.3, 81.35, 7, 1, 7, 1), (122.6, 80.55, 3, -8, 3, -9),
    (122.5, 78.15, 3, -2, 3, -2), (122.7, 78.3, 3, 2, 3, 2), (122.85, 78.2, 0, 3, 0, 3), (122.7, 78.05, -3, 1, -3, 1),
    (122.6, 78.45, 4, 0, 4, 0), (122.45, 78.55, 4, 2, 3, 2), (122.25, 78.5, 2, 5, 2, 4), (122.05, 78.55, 3, 3, 2, 3),
    (122.0, 79.0, 3, 6, 2, 6), (122.05, 79.35, 3, 5, 2, 5), (122.45, 79.6, 3, 5, 2, 5), (122.65, 79.3, 3, 6, 3, 6),
    (122.9, 79.15, 2, 5, 2, 5), (123.05, 78.85, 2, 5, 2, 4), (122.95, 78.6, 2, 4, 2, 3), (123.2, 78.5, 1, 4, 1, 3),
    (123.3, 78.2, -1, 3, -1, 3), (121.15, 78.9, -4, 1, -4, 1), (120.95, 78.9, -5, 1, -4, 1), (121.35, 78.85, -5, 3, -4, 3),
    (121.55, 78.75, -3, 2, -3, 2),
]
west_bay = [
    (119.6, 83.65, -2, 4, -2, 4), (119.35, 83.2, 3, 4, 3, 4), (119.6, 82.95, 5, 2, 4, 3), (119.8, 83.2, 1, -5, 2, -5),
    (119.55, 83.35, -2, -3, -1, -4), (120.1, 83.05, -9, 1, -11, 2), (120.5, 83.1, -9, -2, -13, -2), (120.75, 82.85, -9, 3, -12, 2),
    (120.35, 82.75, -7, 3, -10, 4), (120.05, 82.6, -3, 7, -5, 9), (119.8, 82.5, 3, 6, 2, 7), (119.7, 82.15, 2, 6, 1, 7),
    (120.05, 82.2, 1, 7, 1, 9), (120.35, 82.25, -4, 5, -5, 7), (120.45, 82.65, -2, -3, -3, -3),
    (119.45, 83.2, 1, 5, 1, 5), (119.5, 83.05, 4, 3, 4, 3), (119.7, 83.05, 3, -2, 3, -2), (119.72, 83.25, -1, -4, -1, -4),
    (119.55, 83.25, -1, -2, -1, -2), (119.25, 83.35, -2, 3, -2, 3), (119.2, 83.6, 1, 3, 1, 3), (119.75, 83.45, -2, 3, -2, 3),
    (120.3, 83.25, -8, -1, -10, 0), (120.65, 83.2, -8, 1, -11, 1), (120.85, 83.1, -6, -3, -9, -3), (120.6, 82.95, -7, -4, -9, -3),
    (120.3, 82.95, -8, 3, -11, 3), (120.05, 82.85, -5, 6, -7, 6), (119.85, 82.8, 0, 7, -1, 8), (120.55, 82.55, -2, -4, -2, -4),
    (120.25, 82.45, -1, -5, -1, -6), (119.95, 82.4, 2, 6, 1, 7), (120.5, 82.2, -3, 6, -3, 7), (120.2, 81.95, -1, -7, -1, -8),
    (119.95, 81.95, -1, 5, -1, 6),
]
sw_channel = [
    (119.1, 79.95, -20, -8, -22, -9), (118.7, 79.85, -24, -8, -26, -10), (118.0, 79.75, -18, -6, -22, -7), (117.5, 79.45, -24, -8, -26, -9),
    (118.4, 79.6, -26, -9, -28, -10), (117.9, 79.45, -25, -9, -27, -10), (117.3, 79.25, -25, -10, -28, -10), (116.75, 79.25, -20, -7, -26, -8),
    (118.3, 79.1, -21, -6, -25, -8), (117.7, 79.0, -24, -8, -27, -10), (117.15, 78.85, -24, -9, -27, -11), (116.5, 78.9, -21, -8, -28, -10),
    (116.05, 79.0, -15, -5, -19, -6), (118.65, 79.0, -18, -7, -20, -7), (117.8, 78.6, -20, -7, -23, -8), (117.1, 78.45, -22, -8, -25, -9),
    (116.45, 78.45, -22, -10, -28, -11), (115.85, 78.5, -18, -6, -23, -8), (115.3, 78.45, -15, -5, -19, -7), (117.6, 78.2, -8, -2, -12, -4),
    (116.95, 78.05, -14, -6, -18, -7), (116.3, 78.0, -18, -8, -25, -10), (115.7, 78.0, -22, -10, -26, -12), (115.1, 78.05, -18, -9, -25, -12),
    (114.6, 77.9, -17, -7, -23, -11), (114.2, 77.85, -13, -4, -18, -10), (118.2, 78.3, -8, -3, -9, -3), (117.7, 77.75, -6, -4, -8, -4),
    (117.25, 77.6, -8, -2, -10, -2), (116.75, 77.55, -11, -5, -14, -5), (116.1, 77.5, -16, -8, -20, -10), (115.55, 77.5, -21, -11, -25, -12),
    (115.0, 77.5, -21, -12, -26, -13), (114.45, 77.45, -19, -11, -23, -12), (114.1, 77.3, -14, -6, -19, -12), (115.1, 77.0, -16, -10, -18, -10),
    (114.55, 76.95, -8, -2, -12, -3), (115.55, 76.95, -2, 6, -3, 7), (116.0, 77.05, 7, -3, 7, -1), (116.45, 76.8, 6, -4, -8, 2),
    (117.0, 76.75, 7, -5, 8, -3), (117.4, 76.5, 6, -9, 5, -7), (116.85, 76.3, 5, -9, 5, -6), (116.3, 76.35, 3, -8, 2, -7),
    (115.85, 76.45, -1, -7, -2, -7), (115.4, 76.1, 3, 14, 3, 12), (115.45, 76.35, -3, 16, -2, 15), (115.35, 76.5, -4, 18, -2, 16),
    (115.25, 76.2, -6, -14, -6, -12), (115.55, 76.2, 4, -10, 3, -9), (117.35, 77.5, 5, 6, 4, 5), (117.6, 77.1, 6, 4, 5, 3),
    (117.2, 77.1, -5, 0, -5, 1), (114.75, 76.65, -12, 0, -12, -2),
    (118.6, 79.7, -22, -8, -24, -9), (118.1, 79.55, -24, -8, -26, -10), (117.6, 79.35, -24, -9, -26, -10), (117.0, 79.3, -16, -5, -20, -7),
    (116.6, 79.1, -17, -6, -24, -9), (116.2, 79.1, -14, -5, -20, -7), (115.75, 78.8, -14, -5, -18, -7), (117.45, 78.9, -20, -7, -24, -9),
    (116.85, 78.7, -20, -8, -26, -10), (116.2, 78.65, -18, -7, -26, -10), (115.6, 78.25, -18, -8, -24, -10), (115.35, 78.1, -14, -7, -22, -9),
    (116.65, 78.25, -17, -7, -24, -9), (117.3, 78.65, -16, -6, -22, -8), (118.05, 78.9, -16, -6, -20, -7), (118.6, 79.35, -18, -6, -20, -8),
    (116.0, 77.8, -18, -9, -24, -11), (115.4, 77.75, -20, -10, -26, -12), (114.85, 77.75, -16, -8, -24, -11), (114.4, 77.65, -14, -7, -20, -10),
    (114.8, 77.25, -16, -9, -24, -12), (114.35, 77.15, -12, -6, -20, -11), (114.05, 77.6, -10, -4, -16, -7), (115.25, 77.25, -16, -10, -20, -10),
    (115.8, 77.2, -12, -5, -14, -5), (116.4, 77.25, -8, -2, -10, -3), (117.0, 77.3, -6, -2, -8, -2), (117.5, 77.8, -5, -3, -6, -3),
    (117.9, 78.05, -6, -3, -7, -3), (116.6, 77.05, 3, -1, 4, -1), (116.9, 77.0, 5, -4, 5, -2), (117.2, 76.25, 5, -8, 5, -6),
    (116.55, 76.2, 4, -7, 3, -6), (116.1, 76.65, 5, -6, 5, -4), (115.95, 76.2, 1, -7, 0, -6), (114.3, 76.65, -10, -1, -10, -2),
    (114.9, 76.4, -8, -1, -8, -1), (115.35, 76.7, -1, 15, -1, 14), (115.2, 76.35, -4, -15, -4, -13), (115.3, 76.1, -5, -12, -5, -10),
    (115.5, 76.55, 2, -9, 1, -9), (117.55, 77.3, 5, 5, 4, 4), (117.75, 77.6, 4, 3, 4, 3), (117.95, 77.3, -5, 4, -5, 3),
    (117.85, 77.7, -4, -3, -4, -3),
]
peninsula = [
    (123.95, 77.95, 2, 3, 2, 3), (124.15, 77.75, -3, 2, -2, 2), (123.9, 77.7, -3, -2, -2, -2), (124.3, 77.9, 1, 3, 1, 3),
    (124.4, 77.55, -2, 3, -2, 3), (124.7, 77.4, 1, 3, 1, 3), (124.85, 77.15, 1, 3, 1, 3), (124.7, 77.1, 2, 2, 2, 2),
    (124.05, 78.1, -2, 2, -2, 2), (123.85, 77.85, 3, 1, 3, 1), (124.1, 77.95, 1, -2, 1, -2), (124.25, 77.7, -2, 1, -2, 1),
    (124.55, 77.7, 1, 3, 1, 3), (124.6, 77.2, 1, 3, 1, 3), (124.85, 77.35, 1, 2, 1, 2), (124.4, 77.9, 1, 3, 1, 3),
]
vector_rows = west_channel + north_arm + north_basin + ne_arm + junction + cordero + nodales + south_basin + west_bay + sw_channel + peninsula
vectors = np.array(vector_rows, dtype=float)

# stations, km
station_x = [121.6, 125.85, 127.85, 127.4, 124.8, 124.62, 121.76, 119.22, 121.3]
station_y = [92.5, 93.36, 92.4, 91.2, 90.78, 87.42, 84.87, 81.15, 78.35]
station_names = ['10', '11', '12', '13', '14', '15', '16', '17', '18']
depth_names = ['(203)', '(196)', '(156)', '(155)', None, '(210)', '(225)', '(197)', '(161)']
name_a_x = [121.89, 123.67, 128.09, 127.65, 124.13, 124.95, 119.55, 117.04, 120.26]
name_a_y = [92.51, 93.38, 92.34, 91.14, 91.08, 87.36, 84.9, 81.2, 77.8]
depth_a_x = [122.6, 124.35, 128.77, 128.36, None, 125.63, 120.23, 117.75, 120.94]
name_b_x = [121.89, 125.14, 128.09, 127.65, 124.13, 124.92, 120.94, 118.49, 121.3]
name_b_y = [92.51, 93.38, 92.32, 91.14, 91.08, 87.33, 84.87, 81.31, 77.92]

bar_levels = [46.52, 47, 48, 49, 50, 51, 52, 53, 54, 55, 56, 57, 57.5]
bar_ticks = [47, 48, 49, 50, 51, 52, 53, 54, 55, 56, 57]

W, H = 699, 1483
fig = plt.figure(figsize=(W / 100, H / 100), dpi=100)


def panel(top_px, bottom_px, zones, u, v):
    ax = fig.add_axes([95.5 / W, 1 - bottom_px / H, 586.5 / W, (bottom_px - top_px) / H])
    ax.set_xlim(114, 130)
    ax.set_ylim(76, 95.38)
    ax.patch.set_visible(False)
    clip = Polygon(outline, closed=True, transform=ax.transData)
    for level, pts in zones:
        ax.add_patch(Polygon(pts, closed=True, fc=level_colors[level], ec='none', zorder=1, clip_path=clip))
    ax.add_patch(Polygon(outline, closed=True, fc='none', ec='#8a8a8a', lw=1.3, zorder=2))
    for pts in islands:
        ax.add_patch(Polygon(pts, closed=True, fc='white', ec='#8a8a8a', lw=1.0, zorder=2))
    # 1 cm/s is 1 px on the page
    ax.quiver(vectors[:, 0], vectors[:, 1], u, v, angles='uv', scale_units='inches', scale=100,
              units='dots', width=1.5, headwidth=2.2, headlength=2.8, headaxislength=2.5,
              color='black', zorder=3, clip_on=False, pivot='tail', minlength=0.5)
    ax.scatter(station_x, station_y, s=92, color='#ff0000', zorder=5, clip_on=False, linewidths=0)

    for side in ['top', 'right']:
        ax.spines[side].set_visible(False)
    ax.spines['left'].set_bounds(76, 95)
    ax.spines['left'].set_linewidth(1.2)
    ax.spines['bottom'].set_linewidth(1.2)
    ax.set_zorder(2)
    ax.xaxis.set_major_locator(MultipleLocator(5))
    ax.xaxis.set_minor_locator(MultipleLocator(1))
    ax.set_yticks([80, 85, 90, 95])
    ax.yaxis.set_minor_locator(MultipleLocator(1))
    ax.tick_params(axis='y', which='major', length=16.5, width=1.1, labelsize=13.5, pad=3)
    ax.tick_params(axis='y', which='minor', length=10, width=1.1)
    ax.tick_params(axis='x', which='major', length=8.5, width=1.1, labelsize=13.5, pad=3)
    ax.tick_params(axis='x', which='minor', length=5, width=1.1)

    # scale arrow and its text
    ax.quiver([115.84], [93.82], [25], [0], angles='uv', scale_units='inches', scale=100, units='dots',
              width=1.3, headwidth=4, headlength=7, headaxislength=6, color='black', zorder=4)
    ax.text(114.58, 93.38, r'$\mathit{25\ (cm\ s^{-1})}$', fontsize=18, va='center', ha='left', zorder=4)
    return ax


ax_a = panel(10.1, 718, zones_a, vectors[:, 2], vectors[:, 3])
ax_b = panel(732.1, 1440, zones_b, vectors[:, 4], vectors[:, 5])
ax_a.set_xticklabels([])

ax_a.text(114.53, 94.56, '(a)', fontsize=19, va='center', ha='left')
ax_b.text(114.53, 94.56, '(b)', fontsize=19, va='center', ha='left')

label_style = dict(fontsize=13, fontweight='bold', fontstyle='italic', va='center', ha='left', zorder=6)
for i, name in enumerate(station_names):
    ax_a.text(name_a_x[i], name_a_y[i], name, color='#ff0000', **label_style)
    ax_b.text(name_b_x[i], name_b_y[i], name, color='#ff0000', **label_style)
    if depth_names[i]:
        ax_a.text(depth_a_x[i], name_a_y[i], depth_names[i], color='black', **label_style)

ax_a.text(117.35, 85.75, 'E. Thurlow I.', fontsize=14, ha='center', va='center')
ax_a.text(125.85, 83.07, 'Sonora I.', fontsize=14, ha='center', va='center')

blue = '#4560a8'
place_names = [('Frederick\nArm', 125.2, 94.67), ('Nodales\nChannel', 120.73, 87.28), ('Cordero\nChannel', 127.0, 86.16)]
for txt, x, y in place_names:
    ax_a.text(x, y, txt, color=blue, fontsize=11, fontstyle='italic', ha='center', va='center', linespacing=1.25)
pointers = [((126.2, 94.89), (126.94, 94.45)), ((121.16, 86.68), (122.5, 85.58)), ((127.03, 86.82), (127.3, 87.58))]
for tail, head in pointers:
    ax_a.annotate('', xy=head, xytext=tail, zorder=6,
                  arrowprops=dict(arrowstyle='-|>,head_width=0.18,head_length=0.4', color=blue, lw=1.2, shrinkA=0, shrinkB=0))

fig.text(392 / W, 1 - 1471 / H, 'X (km)', fontsize=18.5, ha='center', va='center')
fig.text(25 / W, 1 - 730 / H, 'Y (km)', fontsize=18.5, rotation=90, ha='center', va='center')

# colour key
fig.add_artist(Rectangle((521.7 / W, 1 - 1361 / H), 108.5 / W, 258.5 / H, transform=fig.transFigure,
                         fc='white', ec='#333333', lw=1.3, zorder=3))
ax_cb = fig.add_axes([533.5 / W, 1 - 1348 / H, 27 / W, 235 / H], zorder=4)
colors = [level_colors[k] for k in range(46, 58)]
for lo, hi, c in zip(bar_levels[:-1], bar_levels[1:], colors):
    ax_cb.bar(0.5, hi - lo, bottom=lo, width=1, color=c, edgecolor='none')
ax_cb.set_xlim(0, 1)
ax_cb.set_ylim(bar_levels[0], bar_levels[-1])
ax_cb.hlines(bar_ticks, 0, 1, color='black', lw=1.1)
ax_cb.set_xticks([])
ax_cb.yaxis.tick_right()
ax_cb.set_yticks(bar_ticks)
ax_cb.tick_params(axis='y', length=5, width=1.1, labelsize=13.5, pad=3)
for s in ax_cb.spines.values():
    s.set_linewidth(1.0)
fig.text(611 / W, 1 - 1233 / H, 'Surface elevation (cm)', fontsize=17, rotation=90, ha='center', va='center', zorder=5)

fig.savefig('out.png', dpi=100)
